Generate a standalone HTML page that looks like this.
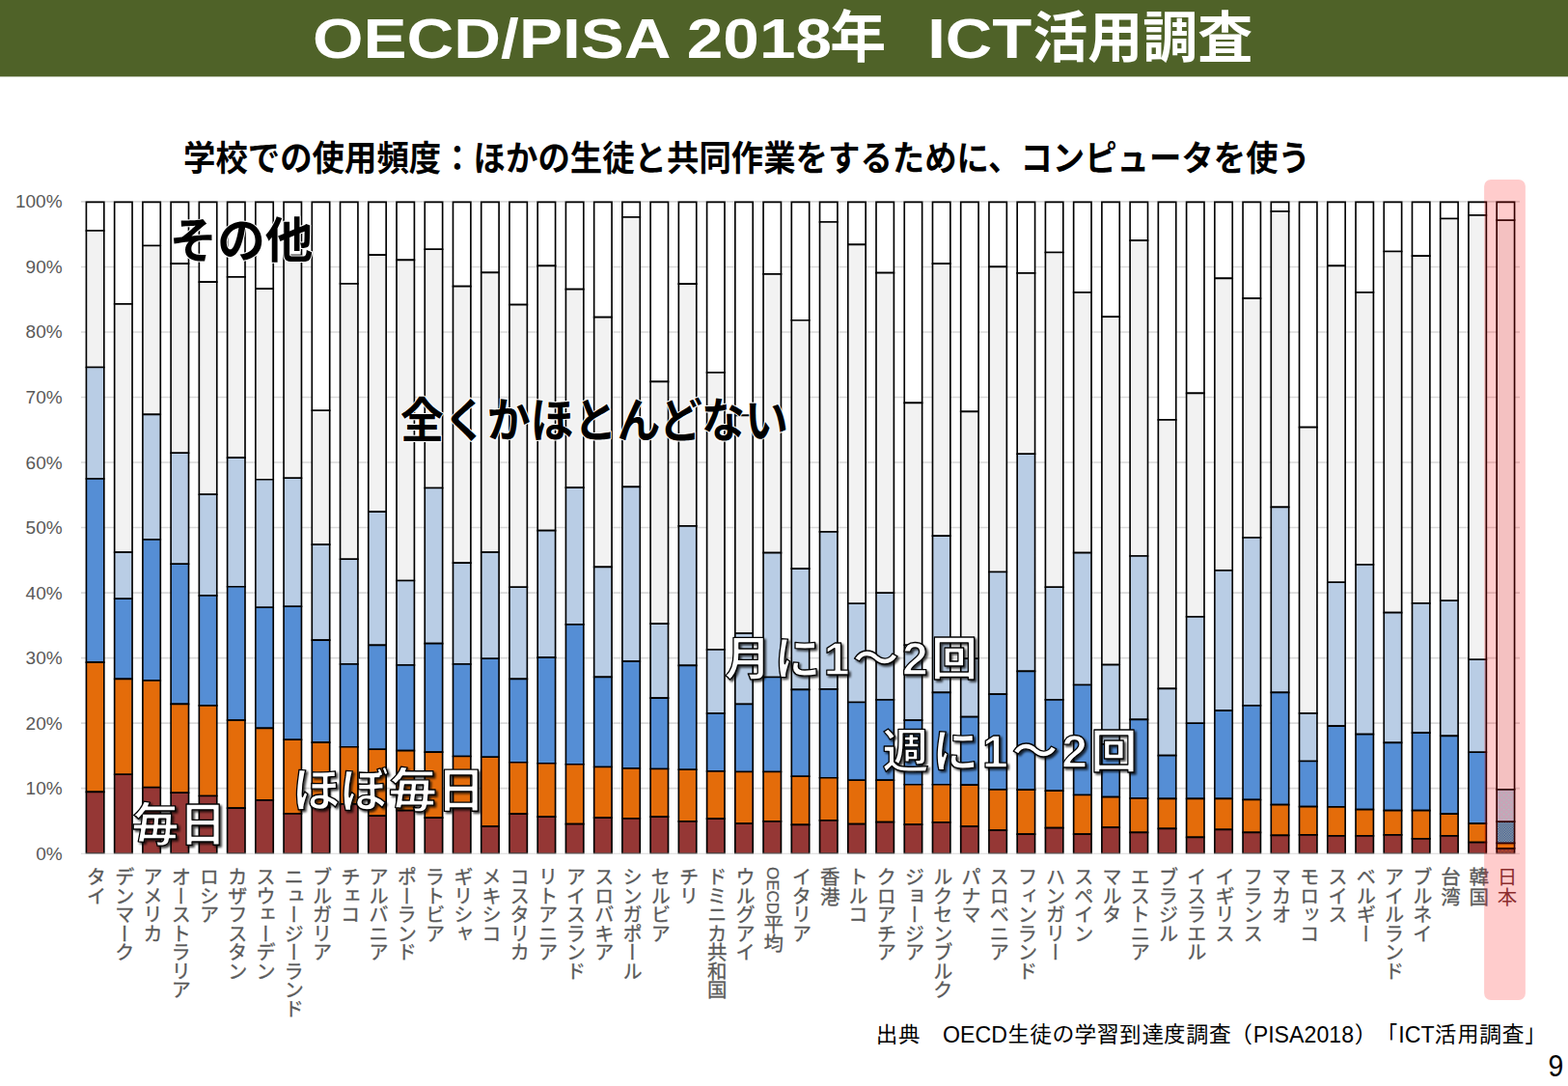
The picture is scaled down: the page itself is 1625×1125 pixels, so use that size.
<!DOCTYPE html>
<html lang="ja">
<head>
<meta charset="utf-8">
<title>OECD/PISA 2018年 ICT活用調査</title>
<style>
html,body{margin:0;padding:0;background:#fff}
body{width:1625px;height:1125px;overflow:hidden;font-family:"Liberation Sans",sans-serif}
svg{display:block}
path{vector-effect:non-scaling-stroke}
</style>
</head>
<body>
<svg width="1625" height="1125" viewBox="0 0 1625 1125">
<rect x="0" y="0" width="1625" height="79.4" fill="#4F6228"/>
<g fill="#fff" font-weight="bold" font-family="'Liberation Sans','Noto Sans CJK JP',sans-serif"><text x="324" y="60" font-size="58" textLength="538" lengthAdjust="spacingAndGlyphs">OECD/PISA 2018</text><text x="860.3" y="59.4" font-size="58">年</text><text x="961.2" y="60" font-size="58" textLength="108" lengthAdjust="spacingAndGlyphs">ICT</text><text x="1070.2" y="59.4" font-size="57" textLength="228" lengthAdjust="spacingAndGlyphs">活用調査</text></g>
<text x="190" y="176.5" font-size="36" font-weight="bold" fill="#000" font-family="'Liberation Sans','Noto Sans CJK JP',sans-serif" textLength="1168" lengthAdjust="spacingAndGlyphs">学校での使用頻度：ほかの生徒と共同作業をするために、コンピュータを使う</text>
<path d="M84 816.67H1575M84 749.14H1575M84 681.61H1575M84 614.08H1575M84 546.55H1575M84 479.02H1575M84 411.49H1575M84 343.96H1575M84 276.43H1575M84 208.9H1575" stroke="#D9D9D9" stroke-width="1.6" fill="none"/>
<g fill="#595959" font-size="19" text-anchor="end" font-family="'Liberation Sans',sans-serif"><text x="64.6" y="890.7">0%</text><text x="64.6" y="823.17">10%</text><text x="64.6" y="755.64">20%</text><text x="64.6" y="688.11">30%</text><text x="64.6" y="620.58">40%</text><text x="64.6" y="553.05">50%</text><text x="64.6" y="485.52">60%</text><text x="64.6" y="417.99">70%</text><text x="64.6" y="350.46">80%</text><text x="64.6" y="282.93">90%</text><text x="64.6" y="215.4">100%</text></g>
<defs><pattern id="pm" width="5" height="5" patternUnits="userSpaceOnUse"><rect width="5" height="5" fill="#B9CDE5"/><circle cx="1.2" cy="1.2" r="0.6" fill="#88FAED"/><circle cx="3.7" cy="3.7" r="0.6" fill="#88FAED"/></pattern><pattern id="pw" width="2.6" height="2.6" patternUnits="userSpaceOnUse"><rect width="2.6" height="2.6" fill="#86D2C8"/><rect width="1.3" height="1.3" fill="#0068C0"/><rect x="1.3" y="1.3" width="1.3" height="1.3" fill="#0068C0"/></pattern><pattern id="pd" width="4" height="4" patternUnits="userSpaceOnUse"><rect width="4" height="4" fill="#7A4542"/><circle cx="1" cy="1" r="0.55" fill="#E88A10"/><circle cx="3" cy="3" r="0.55" fill="#E88A10"/></pattern></defs>
<g stroke="#000" stroke-width="1.65" stroke-linejoin="miter"><path d="M89.42 209.3h18.4v29.7h-18.4zM118.65 209.3h18.4v105.55h-18.4zM147.89 209.3h18.4v45.22h-18.4zM177.12 209.3h18.4v63.85h-18.4zM206.36 209.3h18.4v82.81h-18.4zM235.59 209.3h18.4v77.61h-18.4zM264.83 209.3h18.4v89.83h-18.4zM294.06 209.3h18.4v55.34h-18.4zM323.3 209.3h18.4v215.97h-18.4zM352.54 209.3h18.4v84.56h-18.4zM381.77 209.3h18.4v54.87h-18.4zM411.01 209.3h18.4v60.13h-18.4zM440.24 209.3h18.4v48.93h-18.4zM469.48 209.3h18.4v87.33h-18.4zM498.71 209.3h18.4v73.09h-18.4zM527.95 209.3h18.4v106.3h-18.4zM557.18 209.3h18.4v66.14h-18.4zM586.42 209.3h18.4v90.3h-18.4zM615.65 209.3h18.4v119.25h-18.4zM644.89 209.3h18.4v15.73h-18.4zM674.12 209.3h18.4v186.14h-18.4zM703.36 209.3h18.4v84.83h-18.4zM732.59 209.3h18.4v176.62h-18.4zM761.83 209.3h18.4v221.03h-18.4zM791.06 209.3h18.4v74.58h-18.4zM820.3 209.3h18.4v122.49h-18.4zM849.54 209.3h18.4v20.72h-18.4zM878.77 209.3h18.4v44.14h-18.4zM908.01 209.3h18.4v73.36h-18.4zM937.24 209.3h18.4v208.07h-18.4zM966.48 209.3h18.4v63.85h-18.4zM995.71 209.3h18.4v217.05h-18.4zM1024.95 209.3h18.4v67.09h-18.4zM1054.18 209.3h18.4v73.63h-18.4zM1083.42 209.3h18.4v52.17h-18.4zM1112.65 209.3h18.4v93.54h-18.4zM1141.89 209.3h18.4v118.78h-18.4zM1171.12 209.3h18.4v39.89h-18.4zM1200.36 209.3h18.4v225.55h-18.4zM1229.59 209.3h18.4v198.08h-18.4zM1258.83 209.3h18.4v79.1h-18.4zM1288.06 209.3h18.4v99.82h-18.4zM1317.3 209.3h18.4v9.72h-18.4zM1346.54 209.3h18.4v233.31h-18.4zM1375.77 209.3h18.4v66.14h-18.4zM1405.01 209.3h18.4v93.54h-18.4zM1434.24 209.3h18.4v51.16h-18.4zM1463.48 209.3h18.4v55.88h-18.4zM1492.71 209.3h18.4v17.21h-18.4zM1521.95 209.3h18.4v13.7h-18.4z" fill="#FFFFFF"/><path d="M89.42 239h18.4v141.46h-18.4zM118.65 314.85h18.4v257.2h-18.4zM147.89 254.52h18.4v174.8h-18.4zM177.12 273.15h18.4v196.13h-18.4zM206.36 292.11h18.4v220.08h-18.4zM235.59 286.91h18.4v187.15h-18.4zM264.83 299.13h18.4v197.61h-18.4zM294.06 264.64h18.4v230.61h-18.4zM323.3 425.27h18.4v138.83h-18.4zM352.54 293.86h18.4v285.42h-18.4zM381.77 264.17h18.4v265.98h-18.4zM411.01 269.43h18.4v332.05h-18.4zM440.24 258.23h18.4v247.22h-18.4zM469.48 296.63h18.4v286.43h-18.4zM498.71 282.39h18.4v289.67h-18.4zM527.95 315.6h18.4v292.64h-18.4zM557.18 275.44h18.4v274.21h-18.4zM586.42 299.6h18.4v205.57h-18.4zM615.65 328.55h18.4v258.76h-18.4zM644.89 225.03h18.4v279.41h-18.4zM674.12 395.44h18.4v250.73h-18.4zM703.36 294.13h18.4v250.73h-18.4zM732.59 385.92h18.4v287.03h-18.4zM761.83 430.33h18.4v225.75h-18.4zM791.06 283.88h18.4v288.72h-18.4zM820.3 331.79h18.4v257.27h-18.4zM849.54 230.02h18.4v320.85h-18.4zM878.77 253.44h18.4v371.8h-18.4zM908.01 282.66h18.4v331.58h-18.4zM937.24 417.37h18.4v250.86h-18.4zM966.48 273.15h18.4v281.97h-18.4zM995.71 426.35h18.4v255.85h-18.4zM1024.95 276.39h18.4v316.12h-18.4zM1054.18 282.93h18.4v187.35h-18.4zM1083.42 261.47h18.4v346.76h-18.4zM1112.65 302.84h18.4v269.76h-18.4zM1141.89 328.08h18.4v360.46h-18.4zM1171.12 249.19h18.4v326.85h-18.4zM1200.36 434.85h18.4v278.53h-18.4zM1229.59 407.38h18.4v231.56h-18.4zM1258.83 288.4h18.4v302.42h-18.4zM1288.06 309.12h18.4v247.76h-18.4zM1317.3 219.02h18.4v306.4h-18.4zM1346.54 442.61h18.4v296.21h-18.4zM1375.77 275.44h18.4v327.8h-18.4zM1405.01 302.84h18.4v281.97h-18.4zM1434.24 260.46h18.4v374.23h-18.4zM1463.48 265.18h18.4v359.79h-18.4zM1492.71 226.51h18.4v395.69h-18.4zM1521.95 223h18.4v460.28h-18.4z" fill="#F2F2F2"/><path d="M89.42 380.45h18.4v115.54h-18.4zM118.65 572.06h18.4v48.19h-18.4zM147.89 429.32h18.4v129.58h-18.4zM177.12 469.27h18.4v115h-18.4zM206.36 512.2h18.4v104.81h-18.4zM235.59 474.06h18.4v133.7h-18.4zM264.83 496.74h18.4v132.48h-18.4zM294.06 495.26h18.4v132.96h-18.4zM323.3 564.09h18.4v99.08h-18.4zM352.54 579.28h18.4v108.73h-18.4zM381.77 530.15h18.4v138.15h-18.4zM411.01 601.48h18.4v87.53h-18.4zM440.24 505.45h18.4v161.17h-18.4zM469.48 583.06h18.4v104.95h-18.4zM498.71 572.06h18.4v110.21h-18.4zM527.95 608.23h18.4v95.16h-18.4zM557.18 549.65h18.4v131.54h-18.4zM586.42 505.18h18.4v141.73h-18.4zM615.65 587.31h18.4v114.06h-18.4zM644.89 504.43h18.4v180.74h-18.4zM674.12 646.16h18.4v76.94h-18.4zM703.36 544.86h18.4v144.56h-18.4zM732.59 672.96h18.4v66.01h-18.4zM761.83 656.08h18.4v73.36h-18.4zM791.06 572.6h18.4v128.91h-18.4zM820.3 589.07h18.4v125.26h-18.4zM849.54 550.87h18.4v162.99h-18.4zM878.77 625.24h18.4v102.25h-18.4zM908.01 614.24h18.4v110.68h-18.4zM937.24 668.23h18.4v77.95h-18.4zM966.48 555.12h18.4v162.25h-18.4zM995.71 682.2h18.4v60.47h-18.4zM1024.95 592.51h18.4v126.68h-18.4zM1054.18 470.28h18.4v225.08h-18.4zM1083.42 608.23h18.4v116.69h-18.4zM1112.65 572.6h18.4v136.94h-18.4zM1141.89 688.55h18.4v82.27h-18.4zM1171.12 576.04h18.4v169.4h-18.4zM1200.36 713.38h18.4v69.18h-18.4zM1229.59 638.94h18.4v110.28h-18.4zM1258.83 590.82h18.4v145.37h-18.4zM1288.06 556.87h18.4v173.99h-18.4zM1317.3 525.42h18.4v191.94h-18.4zM1346.54 738.83h18.4v49.67h-18.4zM1375.77 603.24h18.4v148.88h-18.4zM1405.01 584.81h18.4v175.74h-18.4zM1434.24 634.69h18.4v134.64h-18.4zM1463.48 624.97h18.4v134.1h-18.4zM1492.71 622.2h18.4v140.11h-18.4zM1521.95 683.28h18.4v95.97h-18.4z" fill="#B9CDE5"/><path d="M89.42 496h18.4v190.12h-18.4zM118.65 620.25h18.4v83.08h-18.4zM147.89 558.9h18.4v146.12h-18.4zM177.12 584.27h18.4v145.04h-18.4zM206.36 617.01h18.4v113.86h-18.4zM235.59 607.76h18.4v138.42h-18.4zM264.83 629.22h18.4v125.13h-18.4zM294.06 628.21h18.4v138.08h-18.4zM323.3 663.17h18.4v105.89h-18.4zM352.54 688.01h18.4v85.78h-18.4zM381.77 668.3h18.4v107.98h-18.4zM411.01 689.02h18.4v88.55h-18.4zM440.24 666.61h18.4v112.44h-18.4zM469.48 688.01h18.4v95.5h-18.4zM498.71 682.27h18.4v101.98h-18.4zM527.95 703.39h18.4v86.39h-18.4zM557.18 681.19h18.4v109.6h-18.4zM586.42 646.91h18.4v144.83h-18.4zM615.65 701.37h18.4v93.14h-18.4zM644.89 685.17h18.4v110.82h-18.4zM674.12 723.1h18.4v73.43h-18.4zM703.36 689.42h18.4v107.85h-18.4zM732.59 738.96h18.4v60.07h-18.4zM761.83 729.45h18.4v70.05h-18.4zM791.06 701.5h18.4v98h-18.4zM820.3 714.33h18.4v89.9h-18.4zM849.54 713.86h18.4v91.85h-18.4zM878.77 727.49h18.4v80.72h-18.4zM908.01 724.92h18.4v83.28h-18.4zM937.24 746.18h18.4v66.55h-18.4zM966.48 717.36h18.4v95.36h-18.4zM995.71 742.67h18.4v70.53h-18.4zM1024.95 719.19h18.4v98.74h-18.4zM1054.18 695.36h18.4v122.83h-18.4zM1083.42 724.92h18.4v94.28h-18.4zM1112.65 709.54h18.4v113.92h-18.4zM1141.89 770.82h18.4v54.87h-18.4zM1171.12 745.44h18.4v81.53h-18.4zM1200.36 782.56h18.4v44.88h-18.4zM1229.59 749.22h18.4v78.22h-18.4zM1258.83 736.19h18.4v91.25h-18.4zM1288.06 730.86h18.4v97.59h-18.4zM1317.3 717.36h18.4v116.29h-18.4zM1346.54 788.5h18.4v47.18h-18.4zM1375.77 752.12h18.4v83.82h-18.4zM1405.01 760.56h18.4v78.09h-18.4zM1434.24 769.33h18.4v70.32h-18.4zM1463.48 759.07h18.4v80.58h-18.4zM1492.71 762.31h18.4v80.85h-18.4zM1521.95 779.25h18.4v73.9h-18.4z" fill="#558ED5"/><path d="M89.42 686.12h18.4v134.31h-18.4zM118.65 703.33h18.4v98.94h-18.4zM147.89 705.01h18.4v110.68h-18.4zM177.12 729.31h18.4v91.92h-18.4zM206.36 730.86h18.4v93.61h-18.4zM235.59 746.18h18.4v90.98h-18.4zM264.83 754.35h18.4v74.58h-18.4zM294.06 766.29h18.4v76.74h-18.4zM323.3 769.06h18.4v67.42h-18.4zM352.54 773.79h18.4v59.05h-18.4zM381.77 776.28h18.4v68.77h-18.4zM411.01 777.57h18.4v62.02h-18.4zM440.24 779.05h18.4v68.03h-18.4zM469.48 783.5h18.4v52.51h-18.4zM498.71 784.25h18.4v71.88h-18.4zM527.95 789.78h18.4v53.38h-18.4zM557.18 790.79h18.4v55.34h-18.4zM586.42 791.74h18.4v61.89h-18.4zM615.65 794.51h18.4v52.64h-18.4zM644.89 795.99h18.4v51.9h-18.4zM674.12 796.53h18.4v49.61h-18.4zM703.36 797.27h18.4v53.59h-18.4zM732.59 799.03h18.4v49.13h-18.4zM761.83 799.5h18.4v53.65h-18.4zM791.06 799.5h18.4v51.36h-18.4zM820.3 804.22h18.4v50.15h-18.4zM849.54 805.71h18.4v44.21h-18.4zM878.77 808.21h18.4v45.42h-18.4zM908.01 808.21h18.4v43.46h-18.4zM937.24 812.73h18.4v41.44h-18.4zM966.48 812.73h18.4v39.14h-18.4zM995.71 813.2h18.4v42.92h-18.4zM1024.95 817.92h18.4v42.18h-18.4zM1054.18 818.19h18.4v45.89h-18.4zM1083.42 819.21h18.4v38.4h-18.4zM1112.65 823.46h18.4v40.63h-18.4zM1141.89 825.69h18.4v31.45h-18.4zM1171.12 826.97h18.4v35.43h-18.4zM1200.36 827.44h18.4v30.91h-18.4zM1229.59 827.44h18.4v39.89h-18.4zM1258.83 827.44h18.4v31.92h-18.4zM1288.06 828.45h18.4v33.95h-18.4zM1317.3 833.65h18.4v31.72h-18.4zM1346.54 835.67h18.4v29.16h-18.4zM1375.77 835.94h18.4v29.9h-18.4zM1405.01 838.64h18.4v27.2h-18.4zM1434.24 839.66h18.4v25.17h-18.4zM1463.48 839.66h18.4v29.22h-18.4zM1492.71 843.17h18.4v22.68h-18.4zM1521.95 853.15h18.4v19.44h-18.4z" fill="#E46C0A"/><path d="M89.42 820.42h18.4v63.78h-18.4zM118.65 802.27h18.4v81.93h-18.4zM147.89 815.7h18.4v68.5h-18.4zM177.12 821.23h18.4v62.97h-18.4zM206.36 824.47h18.4v59.73h-18.4zM235.59 837.16h18.4v47.04h-18.4zM264.83 828.93h18.4v55.27h-18.4zM294.06 843.03h18.4v41.17h-18.4zM323.3 836.48h18.4v47.72h-18.4zM352.54 832.84h18.4v51.36h-18.4zM381.77 845.06h18.4v39.14h-18.4zM411.01 839.59h18.4v44.61h-18.4zM440.24 847.08h18.4v37.12h-18.4zM469.48 836.01h18.4v48.19h-18.4zM498.71 856.12h18.4v28.08h-18.4zM527.95 843.17h18.4v41.03h-18.4zM557.18 846.14h18.4v38.06h-18.4zM586.42 853.63h18.4v30.57h-18.4zM615.65 847.15h18.4v37.05h-18.4zM644.89 847.89h18.4v36.31h-18.4zM674.12 846.14h18.4v38.06h-18.4zM703.36 850.86h18.4v33.34h-18.4zM732.59 848.16h18.4v36.04h-18.4zM761.83 853.15h18.4v31.05h-18.4zM791.06 850.86h18.4v33.34h-18.4zM820.3 854.37h18.4v29.83h-18.4zM849.54 849.92h18.4v34.28h-18.4zM878.77 853.63h18.4v30.57h-18.4zM908.01 851.67h18.4v32.53h-18.4zM937.24 854.17h18.4v30.03h-18.4zM966.48 851.87h18.4v32.33h-18.4zM995.71 856.12h18.4v28.08h-18.4zM1024.95 860.11h18.4v24.09h-18.4zM1054.18 864.09h18.4v20.11h-18.4zM1083.42 857.61h18.4v26.59h-18.4zM1112.65 864.09h18.4v20.11h-18.4zM1141.89 857.14h18.4v27.06h-18.4zM1171.12 862.4h18.4v21.8h-18.4zM1200.36 858.35h18.4v25.85h-18.4zM1229.59 867.33h18.4v16.87h-18.4zM1258.83 859.36h18.4v24.84h-18.4zM1288.06 862.4h18.4v21.8h-18.4zM1317.3 865.37h18.4v18.83h-18.4zM1346.54 864.83h18.4v19.37h-18.4zM1375.77 865.84h18.4v18.36h-18.4zM1405.01 865.84h18.4v18.36h-18.4zM1434.24 864.83h18.4v19.37h-18.4zM1463.48 868.88h18.4v15.32h-18.4zM1492.71 865.84h18.4v18.36h-18.4zM1521.95 872.59h18.4v11.61h-18.4z" fill="#953735"/><path d="M1551.18 878.8h18.4v5.4h-18.4z" fill="url(#pd)"/><path d="M1551.18 873.4h18.4v5.4h-18.4z" fill="#EC8C10"/><path d="M1551.18 851.13h18.4v22.27h-18.4z" fill="url(#pw)"/><path d="M1551.18 817.72h18.4v33.41h-18.4z" fill="url(#pm)"/><path d="M1551.18 227.99h18.4v589.73h-18.4z" fill="#F2F2F2"/><path d="M1551.18 209.3h18.4v18.69h-18.4z" fill="#FFFFFF"/></g>
<path d="M84 884.25H1575" stroke="#D9D9D9" stroke-width="1.2" fill="none"/>
<g fill="#595959" stroke="#595959" stroke-width="0.3" font-size="20.5" letter-spacing="-1" font-family="'Liberation Sans','Noto Sans CJK JP',sans-serif" style="writing-mode:vertical-rl"><text x="98.62" y="898">タイ</text><text x="127.85" y="898">デンマーク</text><text x="157.09" y="898">アメリカ</text><text x="186.32" y="898">オーストラリア</text><text x="215.56" y="898">ロシア</text><text x="244.79" y="898">カザフスタン</text><text x="274.03" y="898">スウェーデン</text><text x="303.26" y="898">ニュージーランド</text><text x="332.5" y="898">ブルガリア</text><text x="361.74" y="898">チェコ</text><text x="390.97" y="898">アルバニア</text><text x="420.21" y="898">ポーランド</text><text x="449.44" y="898">ラトビア</text><text x="478.68" y="898">ギリシャ</text><text x="507.91" y="898">メキシコ</text><text x="537.15" y="898">コスタリカ</text><text x="566.38" y="898">リトアニア</text><text x="595.62" y="898">アイスランド</text><text x="624.85" y="898">スロバキア</text><text x="654.09" y="898">シンガポール</text><text x="683.32" y="898">セルビア</text><text x="712.56" y="898">チリ</text><text x="741.79" y="898">ドミニカ共和国</text><text x="771.03" y="898">ウルグアイ</text><text x="800.26" y="898"><tspan font-size="17" letter-spacing="0">OECD</tspan>平均</text><text x="829.5" y="898">イタリア</text><text x="858.74" y="898" letter-spacing="0">香港</text><text x="887.97" y="898">トルコ</text><text x="917.21" y="898">クロアチア</text><text x="946.44" y="898">ジョージア</text><text x="975.68" y="898">ルクセンブルク</text><text x="1004.91" y="898">パナマ</text><text x="1034.15" y="898">スロベニア</text><text x="1063.38" y="898">フィンランド</text><text x="1092.62" y="898">ハンガリー</text><text x="1121.85" y="898">スペイン</text><text x="1151.09" y="898">マルタ</text><text x="1180.32" y="898">エストニア</text><text x="1209.56" y="898">ブラジル</text><text x="1238.79" y="898">イスラエル</text><text x="1268.03" y="898">イギリス</text><text x="1297.26" y="898">フランス</text><text x="1326.5" y="898">マカオ</text><text x="1355.74" y="898">モロッコ</text><text x="1384.97" y="898">スイス</text><text x="1414.21" y="898">ベルギー</text><text x="1443.44" y="898">アイルランド</text><text x="1472.68" y="898">ブルネイ</text><text x="1501.91" y="898" letter-spacing="0">台湾</text><text x="1531.15" y="898" letter-spacing="0">韓国</text><text x="1560.38" y="898" letter-spacing="0" fill="#703A3A" stroke="none">日本</text></g>
<defs><filter id="sh" x="-10%" y="-20%" width="125%" height="150%"><feGaussianBlur in="SourceAlpha" stdDeviation="0.9"/><feOffset dx="2.4" dy="2.4"/><feComponentTransfer><feFuncA type="linear" slope="0.75"/></feComponentTransfer><feMerge><feMergeNode/><feMergeNode in="SourceGraphic"/></feMerge></filter></defs>
<g font-weight="bold" fill="#000" stroke="#fff" stroke-width="2" stroke-linejoin="round" paint-order="stroke" font-family="'Liberation Sans','Noto Sans CJK JP',sans-serif"><text x="175.5" y="266.85" font-size="50" textLength="149" lengthAdjust="spacingAndGlyphs">その他</text><text x="414.9" y="452.65" font-size="49" textLength="402" lengthAdjust="spacingAndGlyphs">全くかほとんどない</text></g>
<g font-weight="bold" fill="#fff" stroke="#000" stroke-width="1.3" stroke-linejoin="round" filter="url(#sh)" font-family="'Liberation Sans','Noto Sans CJK JP',sans-serif"><text x="751.1" y="699" font-size="48" textLength="262">月に1〜2回</text><text x="914.6" y="795.4" font-size="48" textLength="264">週に1〜2回</text><text x="302.7" y="835.8" font-size="49" textLength="200" lengthAdjust="spacingAndGlyphs">ほぼ毎日</text><text x="136.4" y="871.4" font-size="48" textLength="98" lengthAdjust="spacingAndGlyphs">毎日</text></g>
<rect x="1538.1" y="186" width="42.8" height="850" rx="7" ry="7" fill="#FF0000" fill-opacity="0.2"/>
<text x="907.5" y="1080.2" font-size="24" fill="#000" font-family="'Liberation Sans','IPAGothic','Noto Sans CJK JP',sans-serif" textLength="695" lengthAdjust="spacingAndGlyphs">出典　OECD生徒の学習到達度調査（PISA2018）「ICT活用調査」</text>
<text x="1604.4" y="1115.4" font-size="32" fill="#000" font-family="'Liberation Sans',sans-serif" textLength="15.8" lengthAdjust="spacingAndGlyphs">9</text>
</svg>
</body>
</html>
